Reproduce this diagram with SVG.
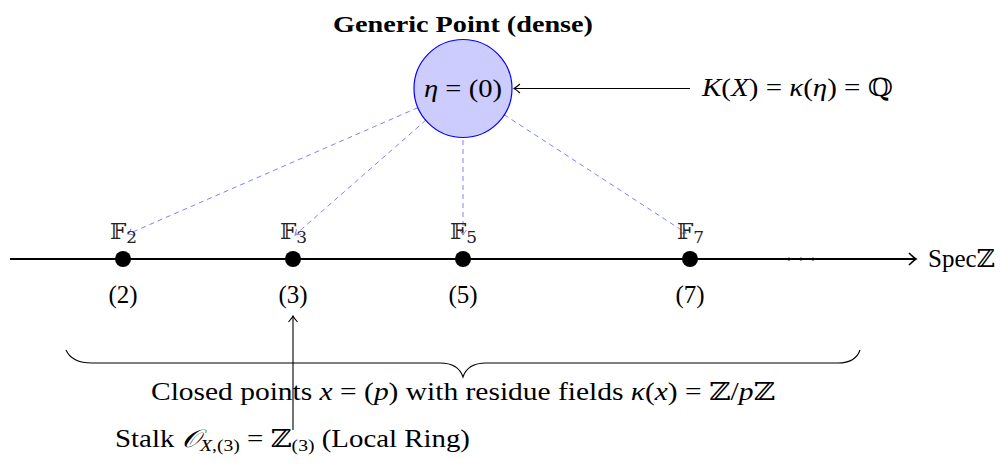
<svg xmlns="http://www.w3.org/2000/svg" width="1001" height="466" viewBox="0 0 1001 466">
<style>
text{font-family:"Liberation Serif","DejaVu Serif",serif;font-size:25px;fill:#000}
.it{font-style:italic}
.sub{font-size:17px}
.bb{font-family:"DejaVu Serif","DejaVu Sans",serif;font-size:23px;fill:#222}
.title{font-weight:bold;font-size:24px}
.dash{stroke:#8080ff;stroke-width:1;stroke-dasharray:5,4;fill:none}
.ln{stroke:#000;stroke-width:1.1;fill:none}
</style>
<defs>
<marker id="ah" viewBox="-8 -6 10 12" markerWidth="10" markerHeight="12" refX="0" refY="0" orient="auto" markerUnits="userSpaceOnUse">
<path d="M-6,-4.5 Q-2,-1 0,0 Q-2,1 -6,4.5" fill="none" stroke="#000" stroke-width="1.1"/>
</marker>
<marker id="ahb" viewBox="-8 -6 10 12" markerWidth="10" markerHeight="12" refX="0" refY="0" orient="auto" markerUnits="userSpaceOnUse">
<path d="M-5,-3.5 Q-2,-1 0,0 Q-2,1 -5,3.5" fill="none" stroke="#8080ff" stroke-width="1"/>
</marker>
<marker id="ahk" viewBox="-10 -8 12 16" markerWidth="12" markerHeight="16" refX="0" refY="0" orient="auto" markerUnits="userSpaceOnUse">
<path d="M-7,-6 Q-2,-1.2 0,0 Q-2,1.2 -7,6" fill="none" stroke="#000" stroke-width="1.6"/>
</marker>
</defs>

<g id="connectors">
<line class="dash" x1="418" y1="107.6" x2="128" y2="234" marker-end="url(#ahb)"/>
<line class="dash" x1="426" y1="120" x2="295" y2="235" marker-end="url(#ahb)"/>
<line class="dash" x1="463" y1="140" x2="463" y2="235" marker-end="url(#ahb)"/>
<line class="dash" x1="504" y1="114.6" x2="686" y2="233" marker-end="url(#ahb)"/>
<line class="ln" x1="690" y1="88.5" x2="514" y2="88.5" marker-end="url(#ah)"/>
<line class="ln" x1="293" y1="430" x2="293" y2="316" marker-end="url(#ah)"/>
<path class="ln" d="M66,350 C70,359 78,363 92,363 L440,363 C452,363 460,368 463,377 C466,368 474,363 486,363 L838,363 C850,363 857,359 860,350"/>
</g>

<g id="axis">
<line x1="10" y1="259" x2="916" y2="259" stroke="#000" stroke-width="1.8" marker-end="url(#ahk)"/>
<circle cx="789" cy="259" r="1.6" fill="#000"/>
<circle cx="801" cy="259" r="1.6" fill="#000"/>
<circle cx="813" cy="259" r="1.6" fill="#000"/>
<text x="928" y="267">Spec<tspan font-family="DejaVu Serif">ℤ</tspan></text>
</g>

<g id="title">
<text class="title" x="463" y="32" text-anchor="middle" textLength="260" lengthAdjust="spacingAndGlyphs">Generic Point (dense)</text>
</g>

<g id="generic-point">
<circle cx="463" cy="88.5" r="49" fill="#ccccff" stroke="#0000ff" stroke-width="1.2"/>
<text x="463" y="97" text-anchor="middle" textLength="78" lengthAdjust="spacingAndGlyphs"><tspan class="it">η</tspan> = (0)</text>
</g>

<g id="function-field">
<text x="702" y="96" textLength="191" lengthAdjust="spacingAndGlyphs"><tspan class="it">K</tspan>(<tspan class="it">X</tspan>) = <tspan class="it">κ</tspan>(<tspan class="it">η</tspan>) = <tspan font-family="DejaVu Serif">ℚ</tspan></text>
</g>

<g id="p2">
<circle cx="123" cy="259" r="8" fill="#000"/>
<text class="bb" x="110" y="239">𝔽<tspan class="sub" dy="4">2</tspan></text>
<text x="123" y="303" text-anchor="middle">(2)</text>
</g>
<g id="p3">
<circle cx="293" cy="259" r="8" fill="#000"/>
<text class="bb" x="280" y="239">𝔽<tspan class="sub" dy="4">3</tspan></text>
<text x="293" y="303" text-anchor="middle">(3)</text>
</g>
<g id="p5">
<circle cx="463" cy="259" r="8" fill="#000"/>
<text class="bb" x="450" y="239">𝔽<tspan class="sub" dy="4">5</tspan></text>
<text x="463" y="303" text-anchor="middle">(5)</text>
</g>
<g id="p7">
<circle cx="690" cy="259" r="8" fill="#000"/>
<text class="bb" x="677" y="239">𝔽<tspan class="sub" dy="4">7</tspan></text>
<text x="690" y="303" text-anchor="middle">(7)</text>
</g>

<g id="closed-points-label">
<text x="151" y="400" textLength="624" lengthAdjust="spacingAndGlyphs">Closed points <tspan class="it">x</tspan> = (<tspan class="it">p</tspan>) with residue fields <tspan class="it">κ</tspan>(<tspan class="it">x</tspan>) = <tspan font-family="DejaVu Serif">ℤ</tspan>/<tspan class="it">p</tspan><tspan font-family="DejaVu Serif">ℤ</tspan></text>
</g>

<g id="stalk-label">
<text x="115" y="447" textLength="355" lengthAdjust="spacingAndGlyphs">Stalk <tspan class="it">𝒪</tspan><tspan class="sub it" dy="4">X</tspan><tspan class="sub">,(3)</tspan><tspan dy="-4"> = </tspan><tspan font-family="DejaVu Serif">ℤ</tspan><tspan class="sub" dy="4">(3)</tspan><tspan dy="-4"> (Local Ring)</tspan></text>
</g>
</svg>
